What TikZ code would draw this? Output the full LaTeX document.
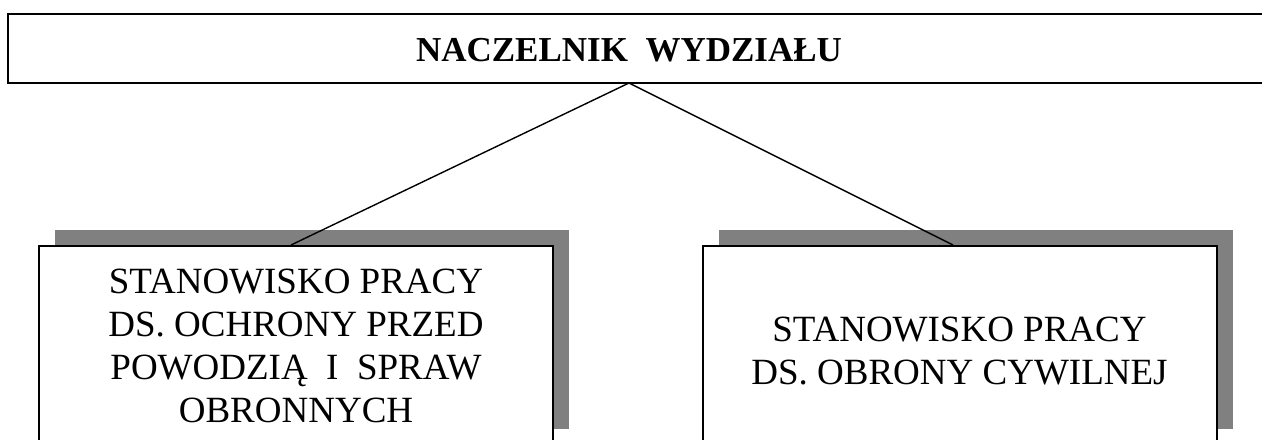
\documentclass[tikz,border=0pt]{standalone}
\usepackage{fontspec}
\setmainfont{Liberation Serif}
\usetikzlibrary{shadows}
\definecolor{shadowgray}{RGB}{128,128,128}

\begin{document}
\begin{tikzpicture}[x=0.5pt, y=-0.5pt,
  post/.style={draw, line width=1pt, fill=white, minimum width=257pt,
    minimum height=99.5pt, inner sep=0pt,
    drop shadow={shadow xshift=8pt, shadow yshift=8pt, fill=shadowgray, opacity=1}},
  posttext/.style={anchor=center, align=center, inner sep=0pt,
    font=\fontsize{18.5}{21.5}\selectfont},
  link/.style={line width=0.7pt}]

\useasboundingbox (0,0) rectangle (1262,439);

% head of department
\node[draw, line width=1pt, minimum width=641pt, minimum height=34.5pt,
  inner sep=0pt] (headbox) at (649,48.5) {};
\node (head) at (629,50) {\fontsize{17.5}{20}\selectfont\bfseries NACZELNIK\ \ WYDZIAŁU};
\coordinate (apex) at (629,83);

% posts
\node[post] (stanA) at (296,345.5) {};
\node[post] (stanB) at (959.5,345.5) {};

\node[posttext] (stanAtxt) at (stanA.center)
  {STANOWISKO PRACY\\DS. OCHRONY PRZED\\POWODZIĄ\ \ I\ \ SPRAW\\OBRONNYCH};
\node[posttext] (stanBtxt) at ([yshift=-3pt]stanB.center)
  {STANOWISKO PRACY\\DS. OBRONY CYWILNEJ};

% links
\coordinate (footA) at ([xshift=-2.5pt]stanA.north);
\coordinate (footB) at ([xshift=-3.25pt]stanB.north);
\draw[link] (apex) -- (footA);
\draw[link] (apex) -- (footB);

\end{tikzpicture}
\end{document}
